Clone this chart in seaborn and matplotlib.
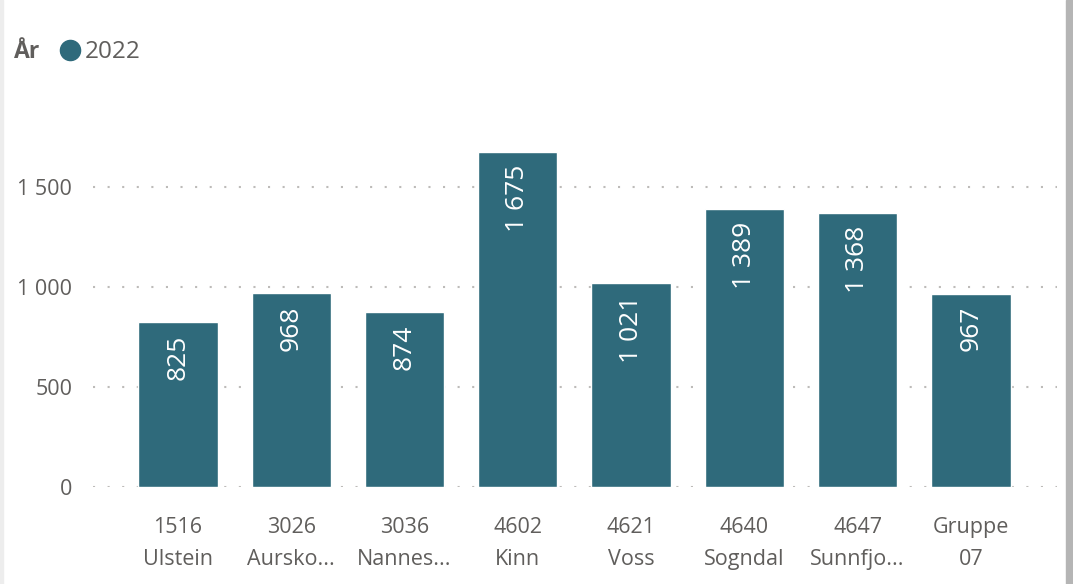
import matplotlib
matplotlib.use("Agg")
import matplotlib.pyplot as plt
from matplotlib.lines import Line2D
from matplotlib.patches import Rectangle
import seaborn as sns
import pandas as pd

codes = ["1516", "3026", "3036", "4602", "4621", "4640", "4647", "Gruppe"]
names = ["Ulstein", "Aursko...", "Nannes...", "Kinn", "Voss", "Sogndal", "Sunnfjo...", "07"]
values_2022 = [825, 968, 874, 1675, 1021, 1389, 1368, 967]
yticks = [0, 500, 1000, 1500]
ytick_labels = ["0", "500", "1 000", "1 500"]
legend_title = "År"
series_name = "2022"

BAR = "#2F6A7B"
TXT = "#605E5C"
GRID = "#BDBBB9"

sns.set_theme(style="white")
plt.rcParams["font.family"] = ["Open Sans", "DejaVu Sans"]

labels = [f"{c}\n{n}" for c, n in zip(codes, names)]
df = pd.DataFrame({"cat": labels, "val": values_2022})

fig = plt.figure(figsize=(10.73, 5.84), dpi=100)
ax = fig.add_axes([93 / 1073, 1 - 487 / 584, (1057 - 93) / 1073, (487 - 100) / 584])

sns.barplot(data=df, x="cat", y="val", color=BAR, width=0.70, saturation=1, ax=ax, zorder=3)

ax.set_xlim(-0.75, 7.76)
ymax = 1500 * (487 - 100) / 300
ax.set_ylim(0, ymax)
ax.set_yticks(yticks)
ax.set_yticklabels(ytick_labels)
ax.yaxis.grid(True, linestyle=(0, (1, 6)), color=GRID, linewidth=1.5, zorder=0)
ax.set_axisbelow(True)
for s in ax.spines.values():
    s.set_visible(False)
ax.set_xlabel("")
ax.set_ylabel("")
ax.tick_params(axis="y", length=0, pad=15, labelsize=15.5, labelcolor=TXT)
ax.tick_params(axis="x", length=0, pad=21.5, labelsize=15.5, labelcolor=TXT)
for t in ax.get_xticklabels():
    t.set_linespacing(1.7)

# data labels inside end, rotated
for p, v in zip(ax.patches, values_2022):
    x = p.get_x() + p.get_width() / 2
    txt = f"{v:,}".replace(",", " ")
    ax.annotate(txt, (x, p.get_height()), xytext=(0, -9), textcoords="offset points",
                rotation=90, ha="center", va="top", color="white", fontsize=19, zorder=5)

# legend
ly = 1 - 52 / 584
fig.text(14 / 1073, ly, legend_title, fontsize=16.5, fontweight="bold", color=TXT,
         ha="left", va="center")
fig.add_artist(Line2D([70 / 1073], [1 - 50 / 584], marker="o", markersize=14.5,
                      color=BAR, linestyle="none", transform=fig.transFigure))
fig.text(85 / 1073, ly, series_name, fontsize=17.5, color=TXT, ha="left", va="center")

# card edges
fig.add_artist(Rectangle((1066 / 1073, 0), 7 / 1073, 1, transform=fig.transFigure,
                         color="#B5B5B5", zorder=0))
fig.add_artist(Rectangle((0, 0), 3 / 1073, 1, transform=fig.transFigure,
                         color="#EDEDED", zorder=0))

fig.savefig("out.png", dpi=100)
